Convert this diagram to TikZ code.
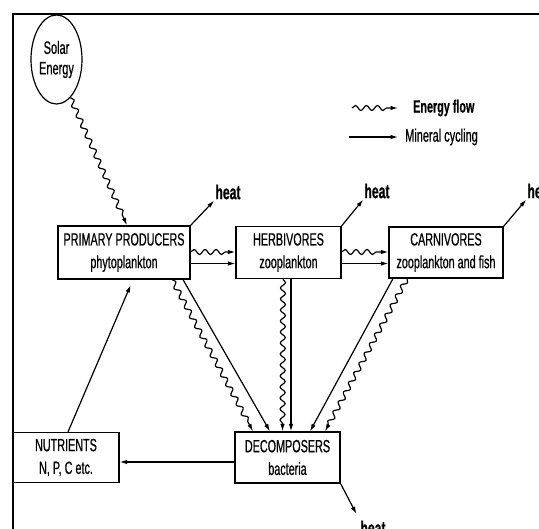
\documentclass[tikz,border=0pt]{standalone}
\usepackage{fontspec}
\setmainfont{Liberation Sans}[FakeStretch=0.61]
\newfontfamily\scanfont{Liberation Sans}[FakeStretch=0.61,FakeBold=0.6]
\usepackage{tikz}
\usetikzlibrary{shapes.geometric,arrows.meta,positioning,decorations.pathmorphing}
\tikzset{
  box/.style={draw,line width=1.2pt,align=center,font=\scanfont\fontsize{17.7}{22.7}\selectfont,inner sep=0pt},
  mflow/.style={-{Latex[length=7.5pt,width=4.5pt]},line width=1.2pt},
  eflow/.style={mflow,decorate,decoration={snake,amplitude=2.5pt,segment length=11pt,post length=7pt}},
  heatlbl/.style={font=\scanfont\bfseries\fontsize{20}{22}\selectfont,inner sep=1pt}
}
\begin{document}
\begin{tikzpicture}[x=1pt,y=-1pt]
\useasboundingbox (0,0) rectangle (539,529);
\clip (0,0) rectangle (539,529);
\draw[line width=1.3pt] (539,14) -- (13,14) -- (13,529);
% sun and the legend
\node[box,ellipse,minimum width=51pt,minimum height=89pt,font=\scanfont\fontsize{18}{20.5}\selectfont] (solar) at (56.5,59.5) {Solar\\Energy};
\node[font=\scanfont\bfseries\fontsize{17.7}{19}\selectfont,anchor=west,inner sep=0pt] (legE) at (413,108) {Energy flow};
\node[font=\scanfont\fontsize{18}{19}\selectfont,anchor=west,inner sep=0pt] (legM) at (405,137) {Mineral cycling};
\coordinate (legEs) at (352,108);
\coordinate (legMs) at (349,137);
% trophic levels
\node[box,minimum width=132pt,minimum height=53pt] (prod) at (124,252.5) {PRIMARY PRODUCERS\\ phytoplankton};
\node[box,minimum width=105pt,minimum height=52pt] (herb) at (288.5,252.5) {HERBIVORES\\ zooplankton};
\node[box,minimum width=114pt,minimum height=51pt] (carn) at (446,252.5) {CARNIVORES\\ zooplankton and fish};
\node[box,minimum width=106pt,minimum height=50pt] (nutr) at (66,457.5) {NUTRIENTS\\ N, P, C etc.};
\node[box,minimum width=105pt,minimum height=51pt] (decomp) at (287.5,457.5) {DECOMPOSERS\\ bacteria};
\node[heatlbl] (heat1) at (228,192) {heat};
\node[heatlbl] (heat2) at (377,191) {heat};
\node[heatlbl] (heat3) at (540,191) {heat};
\node[heatlbl] (heat4) at (373,528) {heat};
% connectors
\draw[eflow] (legEs) -- ([xshift=-15pt]legE.west);
\draw[mflow] (legMs) -- ([xshift=-7pt]legM.west);
\draw[eflow] (solar.-70) -- ([xshift=3pt]prod.north);
\draw[eflow] ([yshift=0.5pt]prod.east) -- ([yshift=0.5pt]herb.west);
\draw[mflow] ([yshift=-11pt]prod.east) -- ([yshift=-11pt]herb.west);
\draw[eflow] ([yshift=0.5pt]herb.east) -- ([yshift=0.5pt]carn.west);
\draw[mflow] ([yshift=-11pt]herb.east) -- ([yshift=-11pt]carn.west);
\draw[mflow] (prod.north east) -- (heat1.south west);
\draw[mflow] (herb.north east) -- (heat2.south west);
\draw[mflow] (carn.north east) -- (heat3.south west);
\draw[mflow,shorten >=6pt] (decomp.south east) -- (heat4.north west);
\draw[eflow] ([xshift=48pt]prod.south) -- ([xshift=-34.5pt]decomp.north);
\draw[mflow] ([xshift=59pt]prod.south) -- ([xshift=-17.5pt]decomp.north);
\draw[eflow] ([xshift=-5.5pt]herb.south) -- ([xshift=-5pt]decomp.north);
\draw[mflow] ([xshift=2.5pt]herb.south) -- ([xshift=3.5pt]decomp.north);
\draw[mflow] ([xshift=-53pt]carn.south) -- ([xshift=22.5pt]decomp.north);
\draw[eflow] ([xshift=-39pt]carn.south) -- ([xshift=37.5pt]decomp.north);
\draw[mflow,shorten >=6pt] ([xshift=2pt]nutr.north) -- ([xshift=9pt]prod.south);
\draw[mflow] ([yshift=-4.5pt]decomp.west) -- ([yshift=-4.5pt]nutr.east);
\end{tikzpicture}
\end{document}
